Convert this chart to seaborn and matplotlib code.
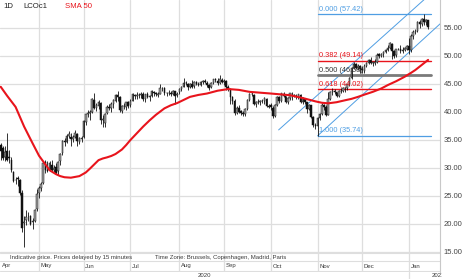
import numpy as np
import pandas as pd
import matplotlib
matplotlib.use("Agg")
import matplotlib.pyplot as plt
import matplotlib.transforms as mtransforms
import seaborn as sns

# ---------------- data ----------------
start_date, end_date = "2020-04-06", "2021-01-15"
holidays = ["2020-04-10", "2020-12-25", "2021-01-01"]

open_ = [34.1, 33.5, 32.0, 33.0, 32.0, 31.5, 29.3, 27.8, 28.2, 27.9, 25.5, 20.2, 20.8, 21.5, 21.4, 20.3, 20.6, 22.6,
         25.5, 26.4, 27.3, 31.0, 29.6, 29.6, 30.6, 29.6, 30.2, 29.4, 31.2, 32.6, 34.9, 34.7, 35.8, 35.6, 35.1, 35.6, 36.1, 34.6, 35.2,
         35.5, 38.3, 39.6, 39.8, 40.0, 42.2, 40.7, 41.1, 41.6, 38.5, 38.0, 39.8, 40.9, 40.7, 41.5, 42.0, 43.0, 42.6, 40.2, 41.0, 40.9, 41.7,
         41.2, 42.0, 43.0, 42.9, 43.1, 43.0, 43.3, 42.3, 43.3, 42.7, 42.9, 43.6, 43.4, 43.1, 43.3, 44.3, 44.3, 43.4, 43.4, 43.4, 43.3, 43.7, 43.0,
         43.5, 44.1, 44.5, 45.2, 45.0, 44.4, 45.0, 44.6, 45.4, 45.0, 44.9, 45.4, 45.5, 45.2, 44.9, 44.4, 45.1, 45.9, 45.6, 45.1, 45.8,
         45.3, 45.6, 44.5, 44.0, 42.6, 42.0, 39.9, 40.7, 40.1, 39.8, 39.7, 40.5, 42.2, 43.3, 43.1, 41.5, 41.8, 41.8, 41.9, 42.0, 42.4, 41.1,
         41.2, 40.8, 39.3, 41.3, 42.6, 42.0, 43.3, 42.8, 41.7, 42.5, 43.3, 43.1, 42.9, 42.6, 43.1, 41.7, 42.4, 41.7, 40.5, 41.2, 39.1, 37.6,
         37.5, 39.0, 39.7, 41.2, 40.9, 39.5, 42.4, 43.6, 43.8, 43.5, 42.8, 43.8, 43.8, 44.3, 44.2, 45.0, 46.1, 47.9, 48.6, 47.8, 48.2,
         47.6, 47.4, 48.3, 48.7, 49.3, 48.8, 48.8, 48.9, 50.3, 50.0, 50.3, 50.8, 51.1, 51.5, 52.2, 50.9, 50.1, 51.2, 51.3, 50.9, 51.1, 51.3,
         51.8, 51.1, 53.6, 54.3, 54.4, 56.0, 55.7, 56.6, 56.1, 56.4]
high = [34.4, 34.0, 34.0, 36.3, 33.3, 32.0, 29.5, 28.4, 28.5, 28.0, 26.0, 21.5, 22.5, 22.2, 21.6, 21.0, 22.7, 26.2,
        26.8, 27.5, 31.0, 31.5, 31.2, 31.2, 31.5, 30.6, 30.9, 31.3, 32.6, 35.0, 35.4, 36.0, 36.6, 36.2, 35.9, 36.8, 36.3, 35.6, 35.8,
        38.6, 39.7, 40.3, 40.4, 42.5, 43.4, 41.6, 42.1, 41.7, 39.5, 39.8, 41.2, 41.5, 41.8, 42.3, 43.2, 43.8, 42.9, 41.3, 41.6, 41.8, 42.0,
        42.3, 43.4, 43.3, 43.5, 43.4, 43.5, 43.6, 43.3, 43.6, 43.0, 43.9, 43.8, 43.6, 43.5, 45.0, 44.5, 44.4, 43.6, 43.9, 43.7, 44.0, 43.8, 43.6,
        44.3, 44.6, 46.0, 45.6, 45.2, 45.1, 45.7, 45.6, 45.6, 45.3, 45.5, 45.8, 45.9, 45.5, 45.0, 45.4, 45.9, 46.1, 46.0, 46.6, 46.0,
        45.9, 45.7, 44.9, 44.2, 42.8, 42.3, 41.0, 41.2, 40.3, 40.1, 40.8, 42.4, 43.4, 43.6, 43.2, 42.0, 42.4, 42.1, 42.3, 42.7, 42.5, 41.5,
        41.6, 41.0, 41.5, 42.8, 42.8, 43.4, 43.5, 42.9, 42.6, 43.4, 43.5, 43.3, 43.2, 43.3, 43.2, 42.6, 42.5, 41.8, 41.4, 41.3, 39.3, 38.0,
        39.1, 39.9, 41.6, 41.5, 41.2, 43.5, 43.8, 44.3, 44.1, 43.6, 44.0, 44.2, 44.5, 44.5, 45.0, 46.2, 48.0, 49.0, 48.7, 48.5, 48.4,
        48.3, 48.5, 49.0, 49.4, 49.9, 49.0, 49.5, 50.5, 50.6, 50.6, 50.9, 51.3, 51.9, 52.5, 52.3, 51.0, 51.3, 51.5, 51.9, 51.6, 51.6, 51.9,
        53.3, 54.0, 54.7, 54.9, 56.3, 56.4, 56.8, 57.42, 56.6, 56.5]
low = [31.5, 31.5, 31.2, 31.3, 30.9, 29.3, 27.5, 27.2, 26.8, 25.2, 18.5, 15.98, 19.9, 20.6, 19.8, 19.1, 20.4, 22.3,
       24.6, 25.9, 27.1, 29.1, 29.2, 29.4, 29.4, 29.3, 28.9, 28.7, 30.6, 32.4, 34.0, 34.4, 35.4, 34.0, 34.7, 35.4, 33.9, 34.3, 34.6,
       35.3, 37.6, 39.1, 38.6, 39.9, 40.6, 40.2, 40.6, 37.8, 37.3, 37.4, 39.6, 40.3, 40.0, 40.8, 41.8, 42.0, 40.0, 39.8, 40.6, 40.4, 40.8,
       40.9, 41.9, 42.4, 42.4, 42.5, 42.5, 41.9, 41.7, 42.5, 42.0, 42.7, 42.9, 42.9, 42.6, 43.2, 43.8, 43.0, 42.9, 43.0, 42.9, 43.1, 41.5, 42.7,
       43.2, 43.8, 44.4, 44.9, 44.0, 44.2, 44.3, 44.2, 44.8, 44.6, 44.6, 45.0, 45.2, 44.4, 44.0, 44.3, 45.0, 45.3, 44.9, 45.0, 45.1,
       44.9, 44.0, 43.7, 41.5, 41.5, 39.4, 39.6, 39.8, 39.4, 39.3, 39.3, 40.4, 41.9, 42.8, 41.3, 40.9, 41.5, 41.2, 41.6, 41.5, 40.9, 40.7,
       40.3, 38.9, 39.1, 41.0, 41.6, 41.8, 42.6, 41.6, 41.4, 42.2, 42.1, 42.7, 42.3, 42.3, 41.6, 41.5, 41.5, 39.9, 40.3, 39.0, 37.3, 36.9,
       35.74, 38.6, 39.4, 40.3, 39.3, 39.4, 42.1, 43.1, 43.3, 42.6, 42.6, 43.4, 43.6, 43.5, 44.0, 44.7, 45.9, 47.6, 47.6, 47.5, 46.9,
       46.9, 47.0, 48.0, 48.5, 48.5, 48.3, 48.4, 48.7, 49.7, 49.8, 49.9, 50.5, 50.9, 51.2, 49.5, 49.6, 49.9, 51.0, 50.6, 50.6, 50.9, 51.0,
       50.4, 50.7, 53.0, 53.9, 54.2, 55.0, 55.4, 55.5, 55.5, 54.9]
close = [33.05, 31.87, 32.84, 31.48, 31.74, 29.60, 27.69, 27.82, 28.08, 25.57, 19.33, 20.37, 21.33, 21.44, 19.99, 20.46, 22.54, 25.27,
         26.44, 27.20, 30.97, 29.72, 29.46, 30.97, 29.63, 29.98, 29.19, 31.13, 32.50, 34.81, 34.65, 35.75, 36.06, 35.13, 35.53, 36.17, 34.74, 35.29, 35.33,
         38.32, 39.57, 39.79, 39.99, 42.30, 40.80, 41.18, 41.73, 38.55, 38.73, 39.72, 40.96, 40.71, 41.51, 42.19, 43.08, 42.63, 40.31, 41.05, 41.02, 41.71, 41.15,
         42.03, 43.14, 42.80, 43.10, 43.08, 43.29, 42.35, 43.24, 42.72, 42.90, 43.79, 43.37, 43.14, 43.28, 44.32, 44.29, 43.31, 43.34, 43.41, 43.22, 43.75, 42.94, 43.30,
         44.15, 44.43, 45.17, 45.09, 44.40, 44.99, 44.50, 45.43, 44.96, 44.80, 45.37, 45.46, 45.37, 44.90, 44.35, 45.13, 45.86, 45.64, 45.09, 45.81, 45.28,
         45.58, 44.43, 44.07, 42.66, 42.01, 39.78, 40.79, 40.06, 39.83, 39.61, 40.53, 42.22, 43.30, 43.15, 41.44, 41.72, 41.77, 41.94, 41.92, 42.43, 41.03, 40.95,
         40.93, 39.27, 41.29, 42.65, 41.99, 43.34, 42.85, 41.72, 42.45, 43.32, 43.16, 42.93, 42.62, 43.16, 41.73, 42.46, 41.77, 40.46, 41.20, 39.12, 37.65, 37.46,
         38.97, 39.71, 41.23, 40.93, 39.45, 42.40, 43.61, 43.80, 43.53, 42.78, 43.82, 43.75, 44.34, 44.20, 44.96, 46.06, 47.86, 48.61, 47.80, 48.18, 47.59,
         47.42, 48.25, 48.71, 49.25, 48.79, 48.84, 48.86, 50.25, 49.97, 50.29, 50.76, 51.08, 51.50, 52.26, 50.91, 50.08, 51.20, 51.29, 50.86, 51.09, 51.34, 51.80,
         51.09, 53.60, 54.30, 54.38, 55.99, 55.66, 56.58, 56.06, 56.42, 55.10]

sma_dates = ["2020-04-06", "2020-04-09", "2020-04-16", "2020-04-22", "2020-04-28", "2020-05-01", "2020-05-08",
             "2020-05-13", "2020-05-15", "2020-05-19", "2020-05-22", "2020-05-28", "2020-06-02", "2020-06-04",
             "2020-06-10", "2020-06-12", "2020-06-16", "2020-06-18", "2020-06-22", "2020-06-25", "2020-06-29",
             "2020-07-01", "2020-07-06", "2020-07-09", "2020-07-14", "2020-07-17", "2020-07-23", "2020-07-28",
             "2020-07-31", "2020-08-10", "2020-08-14", "2020-08-20", "2020-08-27", "2020-09-03", "2020-09-10",
             "2020-09-17", "2020-09-24", "2020-10-01", "2020-10-14", "2020-10-22", "2020-10-30", "2020-11-04",
             "2020-11-09", "2020-11-13", "2020-11-19", "2020-11-24", "2020-11-27", "2020-12-02", "2020-12-08",
             "2020-12-14", "2020-12-17", "2020-12-23", "2020-12-30", "2021-01-05", "2021-01-07", "2021-01-12",
             "2021-01-14", "2021-01-15"]
sma_values = [44.5, 42.9, 40.9, 37.4, 34.4, 32.2, 29.6,
              28.9, 28.55, 28.35, 28.27, 28.55, 29.2, 29.9,
              31.4, 31.7, 31.9, 32.15, 32.5, 33.3, 34.1,
              35.0, 36.2, 37.4, 38.5, 39.5, 40.65, 41.2,
              41.6, 42.7, 43.05, 43.3, 43.8, 44.1, 43.95,
              43.6, 43.45, 43.3, 43.0, 42.5, 41.9, 41.65,
              41.55, 41.75, 42.1, 42.35, 42.7, 43.1, 43.6,
              44.2, 44.8, 45.5, 46.3, 47.0, 47.5, 48.4,
              49.0, 49.3]

fib_ratios = [0.0, 0.382, 0.5, 0.618, 1.0]
fib_high, fib_low = 57.42, 35.74
fib_start = "2020-11-02"

month_labels = ["Apr", "May", "Jun", "Jul", "Aug", "Sep", "Oct", "Nov", "Dec", "Jan"]
year_labels = ["2020", "2021"]
yticks = [15, 20, 25, 30, 35, 40, 45, 50, 55]
header = ["1D", "LCOc1", "SMA 50"]
footer = ["Indicative price. Prices delayed by 15 minutes", "Time Zone: Brussels, Copenhagen, Madrid, Paris"]

# ---------------- setup ----------------
dates = pd.bdate_range(start_date, end_date)
dates = dates[~dates.isin(pd.to_datetime(holidays))]
assert len(dates) == len(close) == len(open_) == len(high) == len(low)
assert len(sma_dates) == len(sma_values)
pos = {d: i for i, d in enumerate(dates)}
x = np.arange(len(dates))
o, h, l, c = map(np.array, (open_, high, low, close))

sns.set_style("white")
plt.rcParams['font.family'] = ['Liberation Sans', 'DejaVu Sans']

W, H = 464, 279
PX = 5.6          # pixels per price unit
AX_W, AX_H = 440, 272
fig = plt.figure(figsize=(W / 100, H / 100), dpi=100)
fig.patch.set_facecolor("white")
ax = fig.add_axes([0, 1 - AX_H / H, AX_W / W, AX_H / H])
ax.set_facecolor("white")
ax.set_xlim(-0.34, 206.6)
ax.set_ylim(60 - AX_H / PX, 60)

GRID = "#dedede"
BLUE = "#4f9ee3"
RED = "#e8141c"
TXT = "#3a3a3a"

def yfrac(px):
    return 1 - px / AX_H

# grid
for yv in yticks:
    ax.axhline(yv, color=GRID, lw=0.9, zorder=0)
month_idx = [i for i in range(1, len(dates)) if dates[i].month != dates[i - 1].month]
for mi in month_idx:
    ax.axvline(mi, color=GRID, lw=0.9, zorder=0)
for py in (253.5, 261, 270.5):
    ax.axhline(60 - py / PX, color=GRID, lw=0.8, zorder=0)

# candles
up = c >= o
ax.vlines(x, l, h, color="#111111", lw=0.6, zorder=3)
ax.bar(x[up], (c - o)[up], bottom=o[up], width=0.75, color="#a0a0a0", edgecolor="#111111", linewidth=0.35, zorder=4)
ax.bar(x[~up], (o - c)[~up], bottom=c[~up], width=0.75, color="#111111", edgecolor="#111111", linewidth=0.35, zorder=4)

# SMA 50
sma_x = [pos[pd.Timestamp(d)] for d in sma_dates]
sns.lineplot(x=sma_x, y=sma_values, ax=ax, color=RED, lw=1.5, zorder=5, sort=False)

# channel
ax.plot([130.7, 215], [36.8, 36.8 + 0.34 * (215 - 130.7)], color=BLUE, lw=0.7, zorder=2)
ax.plot([149, 215], [35.74, 35.74 + 0.347 * (215 - 149)], color=BLUE, lw=0.7, zorder=2)

# fibonacci
fx0 = pos[pd.Timestamp(fib_start)]
fx1 = 202.4
fib_colors = [BLUE, RED, "#7a7a7a", RED, BLUE]
fib_text_colors = [BLUE, RED, "#333333", RED, BLUE]
fib_lw = [0.9, 1.0, 2.0, 1.0, 0.9]
for r, col, tcol, lw in zip(fib_ratios, fib_colors, fib_text_colors, fib_lw):
    lev = fib_high - r * (fib_high - fib_low)
    ax.plot([fx0, fx1], [lev, lev], color=col, lw=lw, zorder=2.5)
    ax.annotate(f"{r:.3f} ({lev:.2f})", xy=(fx0, lev), xytext=(1, 1.5), textcoords="offset pixels",
                ha="left", va="bottom", fontsize=5.3, color=tcol, zorder=6)

# axes styling
ax.set_yticks(yticks)
ax.set_yticklabels([f"{v:.2f}" for v in yticks])
ax.yaxis.tick_right()
ax.tick_params(axis="y", length=0, pad=2.5, labelsize=5.5, labelcolor="#444444")
ax.set_xticks([])
for s in ("top", "left", "bottom"):
    ax.spines[s].set_visible(False)
ax.spines["right"].set_color("#c8c8c8")
ax.spines["right"].set_linewidth(0.8)

# month labels
ax.text(1.5 / AX_W, yfrac(266), month_labels[0], transform=ax.transAxes, fontsize=4.3,
        color=TXT, ha="left", va="center")
btrans = mtransforms.blended_transform_factory(ax.transData, ax.transAxes)
for mi, lab in zip(month_idx, month_labels[1:]):
    ax.annotate(lab, xy=(mi, yfrac(266)), xycoords=btrans, xytext=(1.5, 0), textcoords="offset pixels",
                fontsize=4.3, color=TXT, ha="left", va="center")

# footer
ax.text(10 / AX_W, yfrac(257.3), footer[0], transform=ax.transAxes, fontsize=4.3, color=TXT, ha="left", va="center")
ax.text(155 / AX_W, yfrac(257.3), footer[1], transform=ax.transAxes, fontsize=4.3, color=TXT, ha="left", va="center")

# header
fig.text(3 / W, 1 - 7 / H, header[0], fontsize=5.6, color="#222222", ha="left", va="center")
fig.text(23 / W, 1 - 7 / H, header[1], fontsize=5.6, color="#222222", ha="left", va="center")
fig.text(65 / W, 1 - 7 / H, header[2], fontsize=5.6, color=RED, ha="left", va="center")

# year row
ay = fig.add_axes([0, 0, 442 / W, (H - AX_H) / H])
ay.set_xlim(0, 442)
ay.set_ylim(0, 1)
ay.axis("off")
jan_px = 39 + (month_idx[-1] - 18) * 2.126
ay.axvline(jan_px, color=GRID, lw=0.9)
ay.text(jan_px / 2, 0.45, year_labels[0], fontsize=4.3, color=TXT, ha="center", va="center")
t = ay.text(432, 0.45, year_labels[1], fontsize=4.3, color=TXT, ha="left", va="center", clip_on=True)
t.set_clip_box(ay.bbox)

fig.savefig("out.png", dpi=100, facecolor="white")
